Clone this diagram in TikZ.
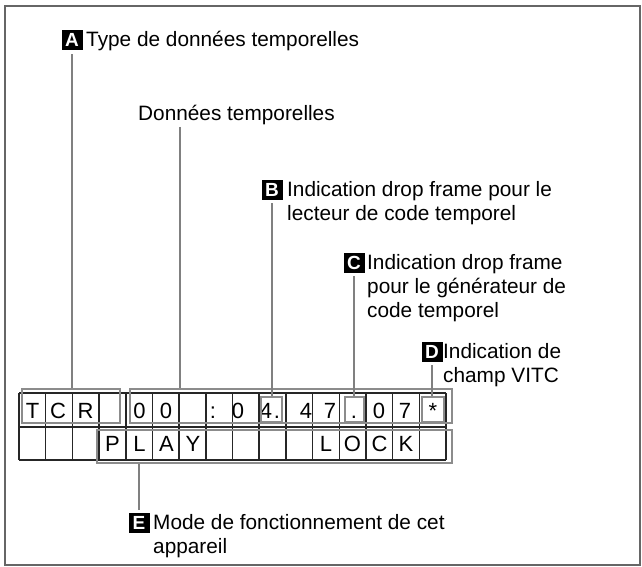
\documentclass[tikz,border=0pt]{standalone}
\usepackage{fontspec}
\setmainfont{Liberation Sans}
\begin{document}
\begin{tikzpicture}[x=1bp,y=-1bp,
  frame/.style={draw=black!60,line width=1.6bp},
  gridln/.style={draw=black!85,line width=1.5bp},
  grp/.style={draw=black!45,line width=2.4bp},
  lead/.style={draw=black!50,line width=1.6bp},
  lab/.style={fill=black,text=white,inner sep=0pt,minimum width=21bp,minimum height=20bp,
    font=\bfseries\fontsize{19bp}{19bp}\selectfont},
  txt/.style={inner sep=0pt,align=left,anchor=north west,
    font=\fontsize{20.8bp}{24bp}\selectfont},
  ch/.style={inner sep=0pt,anchor=base,font=\fontsize{22bp}{22bp}\selectfont}]
\useasboundingbox (0,0) rectangle (642,567);
\draw[frame] (5,6) rectangle (640,565);
% grid
\foreach \i in {0,...,16} {
  \draw[gridln] ({19+\i*26.6875},393) -- ({19+\i*26.6875},460);
}
\draw[gridln] (19,393) -- (446,393);
\draw[gridln] (19,427) -- (446,427);
\draw[gridln] (19,460) -- (446,460);
% row 1 characters
\foreach \c/\x in {T/32.5,C/58,R/85.5,0/139.5,0/166,{:}/213,0/238,4/266,{.}/277,4/306,7/330,{.}/354,0/379,7/405,{*}/433}
  \node[ch] at (\x,418) {\c};
% row 2 characters
\foreach \c/\x in {P/112.5,L/139.5,A/166.5,Y/193,L/326,O/352.5,C/379.5,K/406}
  \node[ch] at (\x,451.5) {\c};
% group boxes
\node[grp,minimum width=98bp,minimum height=34bp,inner sep=0pt] (boxA) at (71,406) {};
\node[grp,minimum width=322bp,minimum height=34bp,inner sep=0pt] (boxT) at (291,406) {};
\node[grp,minimum width=355bp,minimum height=33bp,inner sep=0pt] (boxE) at (274.5,446.5) {};
\node[grp,minimum width=21bp,minimum height=25bp,inner sep=0pt] (boxB) at (271.5,409.5) {};
\node[grp,minimum width=19bp,minimum height=25bp,inner sep=0pt] (boxC) at (354.5,409.5) {};
\node[grp,minimum width=22bp,minimum height=25bp,inner sep=0pt] (boxD) at (433,409.5) {};
% labels
\node[lab] (labA) at (72,40) {A};
\node[txt] (txA) at (86,31) {Type de données temporelles};
\node[txt] (txT) at (138,105) {Données temporelles};
\coordinate (tline) at (180,127);
\node[lab] (labB) at (272,190) {B};
\node[txt] (txB) at (287,181) {Indication drop frame pour le\\lecteur de code temporel};
\node[lab] (labC) at (354,263) {C};
\node[txt] (txC) at (367,254) {Indication drop frame\\pour le générateur de\\code temporel};
\node[lab] (labD) at (432,352) {D};
\node[txt] (txD) at (443,343) {Indication de\\champ VITC};
\node[lab] (labE) at (139,523) {E};
\node[txt] (txE) at (153,514) {Mode de fonctionnement de cet\\appareil};
% leaders
\draw[lead] ([yshift=-4bp]labA.south) -- (labA.south |- boxA.north);
\draw[lead] (tline) -- (tline |- boxT.north);
\draw[lead] ([yshift=-3bp]labB.south) -- (labB.south |- boxB.north);
\draw[lead] ([yshift=-3bp]labC.south) -- (labC.south |- boxC.north);
\draw[lead] ([yshift=-3bp]labD.south) -- (labD.south |- boxD.north);
\draw[lead] (boxE.south -| labE.north) -- ([yshift=3bp]labE.north);
\end{tikzpicture}
\end{document}
